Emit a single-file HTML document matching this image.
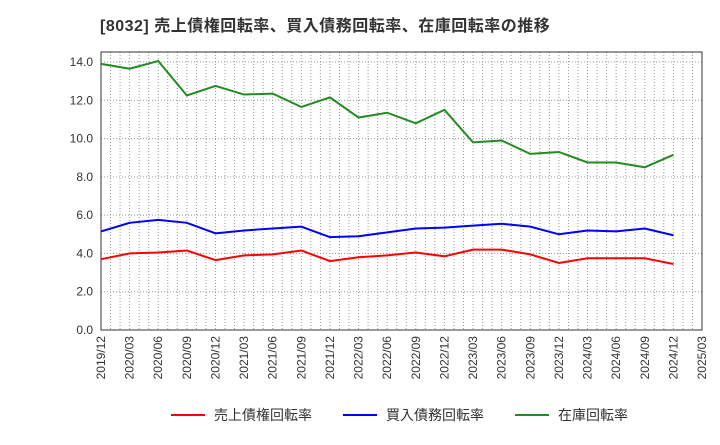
<!DOCTYPE html>
<html><head><meta charset="utf-8"><style>
body{margin:0;background:#fff;}
svg text{font-family:"Liberation Sans","Noto Sans CJK JP",sans-serif;}
</style></head><body>
<svg id="chart" width="720" height="440" xmlns="http://www.w3.org/2000/svg">
<text x="100" y="31" font-size="16" letter-spacing="0.5" font-weight="bold" fill="#333">[8032]  売上債権回転率、買入債務回転率、在庫回転率の推移</text>
<g id="grid"></g><g id="axes"></g><g id="series"></g>
<g>
<line x1="171" y1="415" x2="205" y2="415" stroke="#f00" stroke-width="2"/>
<text x="214" y="420" font-size="14" fill="#333">売上債権回転率</text>
<line x1="343" y1="415" x2="377" y2="415" stroke="#00f" stroke-width="2"/>
<text x="386" y="420" font-size="14" fill="#333">買入債務回転率</text>
<line x1="515" y1="415" x2="549" y2="415" stroke="#228b22" stroke-width="2"/>
<text x="558" y="420" font-size="14" fill="#333">在庫回転率</text>
</g>
</svg>
<script>
const xLabels=["2019/12","2020/03","2020/06","2020/09","2020/12","2021/03","2021/06","2021/09","2021/12","2022/03","2022/06","2022/09","2022/12","2023/03","2023/06","2023/09","2023/12","2024/03","2024/06","2024/09","2024/12","2025/03"];
const yTicks=[0,2,4,6,8,10,12,14];
const receivables=[3.7,4.0,4.05,4.15,3.65,3.9,3.95,4.15,3.6,3.8,3.9,4.05,3.85,4.2,4.2,3.95,3.5,3.75,3.75,3.75,3.45];
const payables=[5.15,5.6,5.75,5.6,5.05,5.2,5.3,5.4,4.85,4.9,5.1,5.3,5.35,5.45,5.55,5.4,5.0,5.2,5.15,5.3,4.95];
const inventory=[13.9,13.65,14.05,12.25,12.75,12.3,12.35,11.65,12.15,11.1,11.35,10.8,11.5,9.8,9.9,9.2,9.3,8.75,8.75,8.5,9.15];
const L=101,R=702,T=52,B=330;
const step=(R-L)/(xLabels.length-1);
const xs=i=>L+i*step;
const ys=v=>B-v*(B-62)/14;
const NS="http://www.w3.org/2000/svg";
function mk(tag,parent,attrs){const e=document.createElementNS(NS,tag);for(const k in attrs)e.setAttribute(k,attrs[k]);parent.appendChild(e);return e;}
const grid=document.getElementById('grid'),axes=document.getElementById('axes'),ser=document.getElementById('series');
for(let m=1;m<(xLabels.length-1)*3;m++){const x=L+m*step/3;
const g=mk('line',grid,{x1:x,y1:T,x2:x,y2:B,stroke:'#999','stroke-dasharray':'1,2','stroke-width':1});

}
yTicks.forEach(v=>{const y=ys(v);
if(v>0){const g=mk('line',grid,{x1:L,y1:y,x2:R,y2:y,stroke:'#999','stroke-dasharray':'1,2'});

}
const t=mk('text',axes,{x:L-8,y:y+4,'font-size':12,'text-anchor':'end',fill:'#333'});t.textContent=v.toFixed(1);

});
xLabels.forEach((s,i)=>{const x=xs(i);
const t=mk('text',axes,{x:x+4,y:B+6,'font-size':12,'text-anchor':'end',fill:'#333',transform:`rotate(-90 ${x+4} ${B+6})`});t.textContent=s;

});
const fr=mk('rect',axes,{x:L,y:T,width:R-L,height:B-T,fill:'none',stroke:'#333'});


[[receivables,'#f00','receivables-line'],[payables,'#00f','payables-line'],[inventory,'#228b22','inventory-line']].forEach(([d,c,n])=>{
const p=mk('polyline',ser,{points:d.map((v,i)=>xs(i)+','+ys(v)).join(' '),fill:'none',stroke:c,'stroke-width':2});

});
</script>
</body></html>
